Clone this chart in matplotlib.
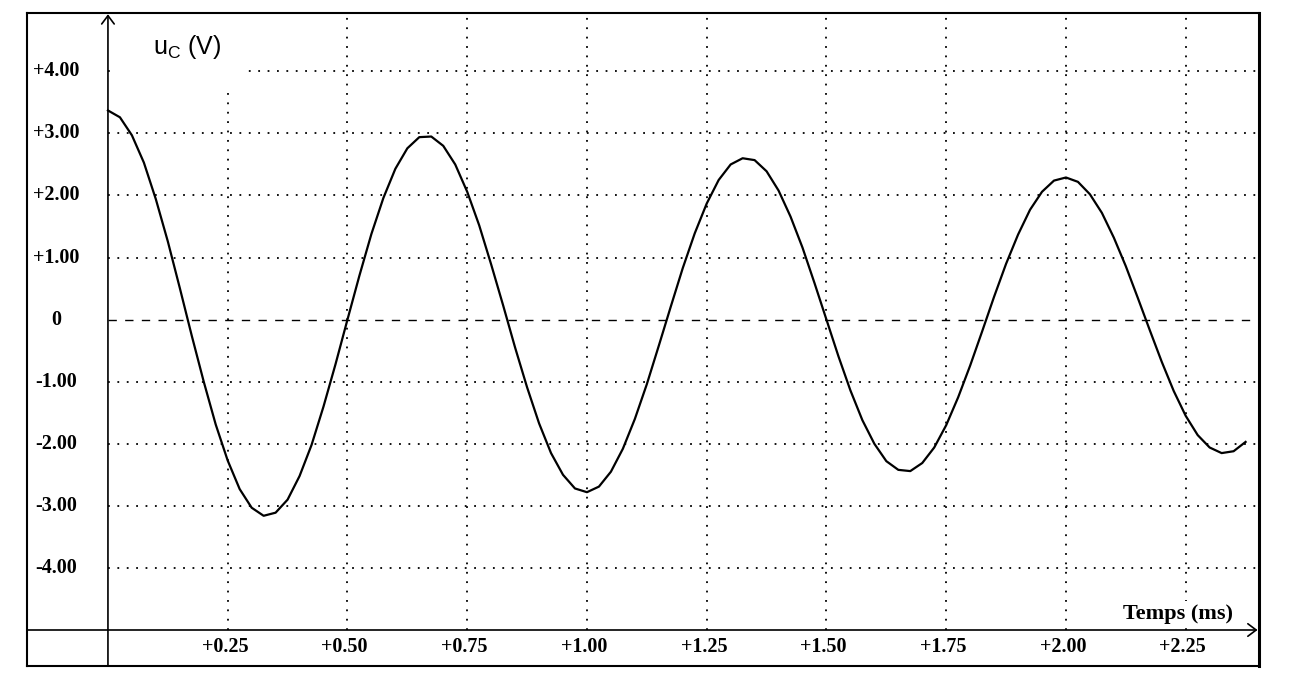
import numpy as np
import matplotlib
matplotlib.use('Agg')
import matplotlib.pyplot as plt
from matplotlib.patches import Rectangle

t_step = 0.025
uc = [3.37, 3.26, 2.97, 2.53, 1.94, 1.26, 0.51, -0.26, -1.00, -1.69,
      -2.27, -2.73, -3.03, -3.16, -3.11, -2.90, -2.52, -2.02, -1.40, -0.72,
      0.00, 0.71, 1.38, 1.96, 2.43, 2.76, 2.94, 2.95, 2.80, 2.50,
      2.06, 1.52, 0.89, 0.23, -0.45, -1.09, -1.67, -2.15, -2.50, -2.72,
      -2.78, -2.69, -2.45, -2.08, -1.60, -1.04, -0.42, 0.21, 0.83, 1.39,
      1.87, 2.25, 2.50, 2.60, 2.57, 2.39, 2.08, 1.66, 1.16, 0.59,
      0.00, -0.59, -1.14, -1.62, -2.00, -2.28, -2.42, -2.44, -2.31, -2.06,
      -1.70, -1.25, -0.74, -0.19, 0.37, 0.90, 1.37, 1.77, 2.06, 2.24,
      2.29, 2.22, 2.02, 1.72, 1.32, 0.86, 0.35, -0.17, -0.68, -1.15,
      -1.55, -1.86, -2.06, -2.15, -2.12, -1.97]
t = np.arange(len(uc)) * t_step

x_ticks = [0.25, 0.50, 0.75, 1.00, 1.25, 1.50, 1.75, 2.00, 2.25]
x_labels = ['+0.25', '+0.50', '+0.75', '+1.00', '+1.25', '+1.50', '+1.75', '+2.00', '+2.25']
y_ticks = [4, 3, 2, 1, 0, -1, -2, -3, -4]
y_labels = ['+4.00', '+3.00', '+2.00', '+1.00', '0', '-1.00', '-2.00', '-3.00', '-4.00']

W, H = 1304, 690
fig = plt.figure(figsize=(W / 100, H / 100), dpi=100)
fig.patch.set_facecolor('white')
ax = fig.add_axes([27 / W, 1 - 666 / H, 1232 / W, 653 / H])

xmin, xmax = -0.169, 2.403
ymin, ymax = -5.58, 4.94
ax.set_xlim(xmin, xmax)
ax.set_ylim(ymin, ymax)
ax.set_xticks([])
ax.set_yticks([])
for s in ax.spines.values():
    s.set_linewidth(1.5)
    s.set_color('black')
ax.spines['right'].set_linewidth(2.2)

dot = dict(color='black', lw=1.3, dashes=(1, 4.2), zorder=1)
for v in y_ticks:
    if v != 0:
        ax.plot([0, xmax], [v, v], **dot)
for v in x_ticks:
    ax.plot([v, v], [-5, ymax], **dot)
ax.plot([0, xmax], [0, 0], color='black', lw=1.0, dashes=(6, 6), zorder=1)

# white patch behind the y label
ax.add_patch(Rectangle((0.01, 3.66), 0.28, 1.4, facecolor='white',
                       edgecolor='none', zorder=2))

arrow = dict(arrowstyle='->,head_length=0.6,head_width=0.45', lw=1.2,
             color='black', shrinkA=0, shrinkB=0)
ax.annotate('', xy=(0, 4.92), xytext=(0, ymin), arrowprops=arrow,
            annotation_clip=False, zorder=3)
ax.annotate('', xy=(2.40, -5.0), xytext=(xmin, -5.0), arrowprops=arrow,
            annotation_clip=False, zorder=3)

ax.plot(t, uc, color='black', lw=1.6, zorder=4)

tick_font = dict(family='Liberation Serif', weight='bold', size=14.5)
for v, lab in zip(y_ticks, y_labels):
    ax.text(0.0235, v, lab, transform=ax.get_yaxis_transform(),
            ha='center', va='center', zorder=5, **tick_font)
for v, lab in zip(x_ticks, x_labels):
    ax.text(v - 0.006, -5.28, lab, ha='center', va='center', zorder=5, **tick_font)

ax.text(2.349, -4.82, 'Temps (ms)', ha='right', va='baseline',
        family='Liberation Serif', weight='bold', size=16, zorder=5,
        bbox=dict(facecolor='white', edgecolor='none', pad=2))
ax.text(0.094, 4.275, r'$\mathregular{u_C}$ (V)', ha='left', va='baseline',
        family='Liberation Sans', size=18, zorder=5)

fig.savefig('out.png', dpi=100, facecolor='white')
